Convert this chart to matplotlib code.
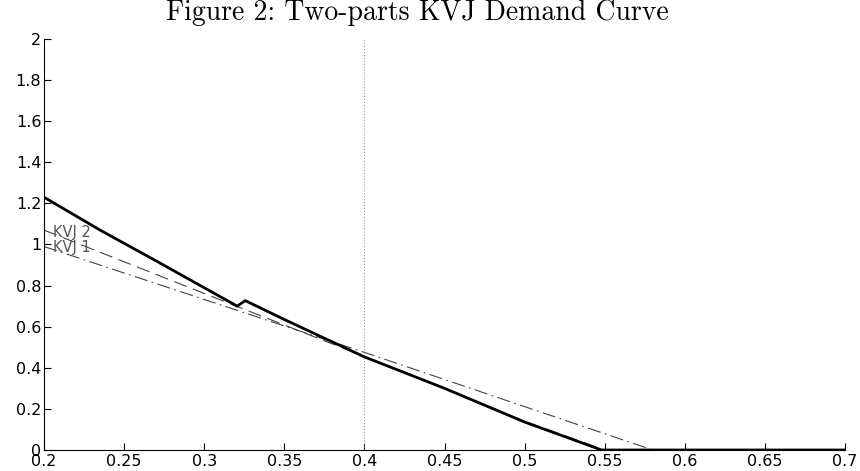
import matplotlib.pyplot as plt

# === Data ===
# two-part KVJ demand curve (solid), with a jump near 0.32
two_part_x = [0.2, 0.235, 0.27, 0.3206, 0.3256, 0.35, 0.4, 0.45, 0.5, 0.548, 0.7]
two_part_y = [1.23, 1.07, 0.92, 0.70, 0.727, 0.635, 0.453, 0.30, 0.136, 0.0, 0.0]

# KVJ 2 (dashed)
kvj2_x = [0.2, 0.32, 0.4, 0.45, 0.5, 0.55, 0.7]
kvj2_y = [1.07, 0.70, 0.455, 0.302, 0.14, 0.0, 0.0]

# KVJ 1 (dash-dot)
kvj1_x = [0.2, 0.4, 0.58, 0.7]
kvj1_y = [0.99, 0.475, 0.0, 0.0]

xticks = [0.2, 0.25, 0.3, 0.35, 0.4, 0.45, 0.5, 0.55, 0.6, 0.65, 0.7]
xticklabels = ['0.2', '0.25', '0.3', '0.35', '0.4', '0.45', '0.5', '0.55', '0.6', '0.65', '0.7']
yticks = [0, 0.2, 0.4, 0.6, 0.8, 1.0, 1.2, 1.4, 1.6, 1.8, 2.0]
yticklabels = ['0', '0.2', '0.4', '0.6', '0.8', '1', '1.2', '1.4', '1.6', '1.8', '2']

# === Plot ===
plt.rcParams['font.family'] = ['DejaVu Sans']
fig = plt.figure(figsize=(8.6, 4.71), dpi=100)
ax = fig.add_axes([0.0512, 0.0446, 0.9314, 0.8726])

ax.axvline(0.4, color='#999999', linestyle=':', linewidth=0.8)
ax.plot(kvj1_x, kvj1_y, color='#444444', linestyle=(0, (12, 4, 1.5, 4)), linewidth=0.8)
ax.plot(kvj2_x, kvj2_y, color='#444444', linestyle=(0, (12, 6)), linewidth=0.8)
ax.plot(two_part_x, two_part_y, color='black', linewidth=2.0)

ax.text(0.2055, 1.057, 'KVJ 2', color='#555555', fontsize=10.5, va='center', ha='left')
ax.text(0.2055, 0.983, 'KVJ 1', color='#555555', fontsize=10.5, va='center', ha='left')

ax.set_xlim(0.2, 0.7)
ax.set_ylim(0, 2)
ax.set_xticks(xticks)
ax.set_xticklabels(xticklabels)
ax.set_yticks(yticks)
ax.set_yticklabels(yticklabels)
ax.tick_params(direction='in', length=5, labelsize=11.5)
ax.tick_params(axis='x', pad=3)
ax.tick_params(axis='y', pad=2)
ax.spines['top'].set_visible(False)
ax.spines['right'].set_visible(False)

fig.text(0.485, 0.972, 'Figure 2: Two-parts KVJ Demand Curve', family='cmr10',
         fontsize=20, ha='center', va='center')

fig.savefig('out.png', dpi=100)
